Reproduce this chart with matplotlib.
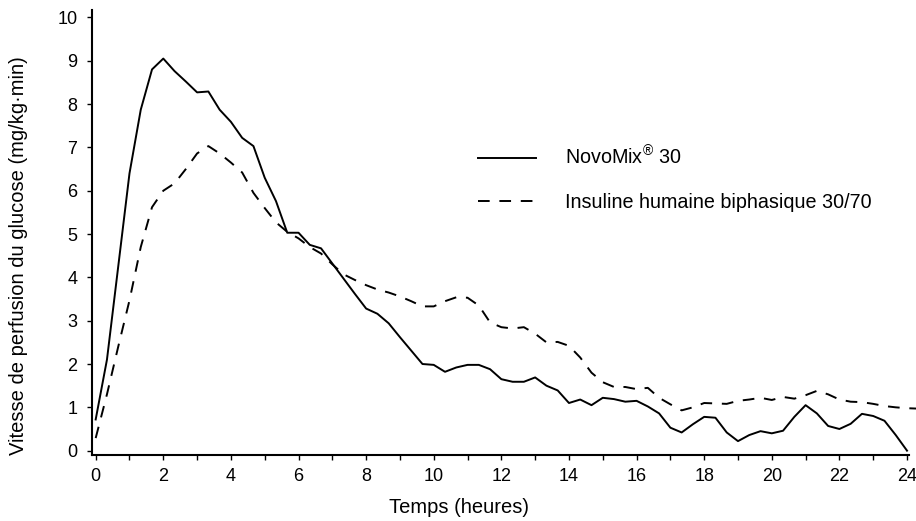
import matplotlib
matplotlib.use('Agg')
from matplotlib import pyplot as plt
from matplotlib.ticker import MultipleLocator

plt.rcParams['font.family'] = ['Liberation Sans', 'DejaVu Sans']
plt.rcParams['mathtext.fontset'] = 'custom'
plt.rcParams['mathtext.rm'] = 'Liberation Sans'

# temps de mesure (minutes), toutes les 20 min
temps_min = [0, 20, 40, 60, 80, 100, 120, 140, 160, 180, 200, 220, 240, 260, 280,
             300, 320, 340, 360, 380, 400, 420, 440, 460, 480, 500, 520, 540, 560,
             580, 600, 620, 640, 660, 680, 700, 720, 740, 760, 780, 800, 820, 840,
             860, 880, 900, 920, 940, 960, 980, 1000, 1020, 1040, 1060, 1080, 1100,
             1120, 1140, 1160, 1180, 1200, 1220, 1240, 1260, 1280, 1300, 1320, 1340,
             1360, 1380, 1400, 1420, 1440, 1460]

novomix = [0.72, 2.1, 4.25, 6.4, 7.87, 8.8, 9.05, 8.76, 8.52, 8.27, 8.29, 7.87,
           7.59, 7.22, 7.03, 6.3, 5.76, 5.03, 5.03, 4.75, 4.67, 4.32, 3.97, 3.62,
           3.28, 3.16, 2.94, 2.62, 2.31, 2.0, 1.98, 1.82, 1.92, 1.98, 1.98, 1.88,
           1.65, 1.59, 1.59, 1.69, 1.5, 1.39, 1.1, 1.18, 1.05, 1.22, 1.19, 1.13,
           1.15, 1.02, 0.86, 0.53, 0.42, 0.61, 0.78, 0.76, 0.42, 0.22, 0.36, 0.45,
           0.4, 0.46, 0.78, 1.05, 0.86, 0.57, 0.5, 0.62, 0.85, 0.8, 0.69, 0.36, 0.0]

biphasique = [0.29, 1.3, 2.4, 3.47, 4.7, 5.62, 6.0, 6.17, 6.5, 6.86, 7.03, 6.86,
              6.65, 6.42, 5.95, 5.6, 5.27, 5.05, 4.9, 4.7, 4.55, 4.3, 4.07, 3.94,
              3.82, 3.72, 3.65, 3.56, 3.45, 3.33, 3.33, 3.45, 3.54, 3.53, 3.35, 2.96,
              2.85, 2.82, 2.85, 2.7, 2.5, 2.51, 2.42, 2.15, 1.8, 1.58, 1.47, 1.47,
              1.42, 1.45, 1.22, 1.07, 0.93, 1.0, 1.1, 1.09, 1.08, 1.15, 1.18, 1.22,
              1.17, 1.24, 1.2, 1.28, 1.38, 1.3, 1.18, 1.13, 1.12, 1.08, 1.03, 1.0,
              0.98, 0.97]

labels = [r'NovoMix$^{\circledR}$ 30', 'Insuline humaine biphasique 30/70']

heures_novo = [t / 60 for t in temps_min[:len(novomix)]]
heures_bi = [t / 60 for t in temps_min[:len(biphasique)]]

fig = plt.figure(figsize=(9.16, 5.21), dpi=100)
ax = fig.add_axes([0.1004, 0.1267, 0.892, 0.854])

ax.plot(heures_novo, novomix, color='black', lw=1.4, label=labels[0])
ax.plot(heures_bi, biphasique, color='black', lw=1.4, dashes=(6, 5),
        label=labels[1], clip_on=False)

ax.set_xlim(-0.11, 24.06)
ax.set_ylim(-0.1, 10.17)
ax.xaxis.set_major_locator(MultipleLocator(2))
ax.xaxis.set_minor_locator(MultipleLocator(1))
ax.yaxis.set_major_locator(MultipleLocator(1))

for s in ['top', 'right']:
    ax.spines[s].set_visible(False)
for s in ['left', 'bottom']:
    ax.spines[s].set_linewidth(1.5)

ax.tick_params(axis='both', which='both', direction='out', length=3.5, width=1,
               labelsize=13)
ax.tick_params(axis='x', pad=6)
ax.tick_params(axis='y', pad=7)

ax.set_xlabel('Temps (heures)', fontsize=14.5)
ax.set_ylabel('Vitesse de perfusion du glucose (mg/kg\u00b7min)', fontsize=14.5)
ax.xaxis.set_label_coords(0.449, -0.097)
ax.yaxis.set_label_coords(-0.078, 0.447)

ax.legend(loc='upper left', bbox_to_anchor=(0.472, 0.695), frameon=False,
          fontsize=14.2, handlelength=2.95, handletextpad=1.5, labelspacing=1.2,
          borderpad=0, borderaxespad=0)

fig.savefig('out.png', dpi=100)
